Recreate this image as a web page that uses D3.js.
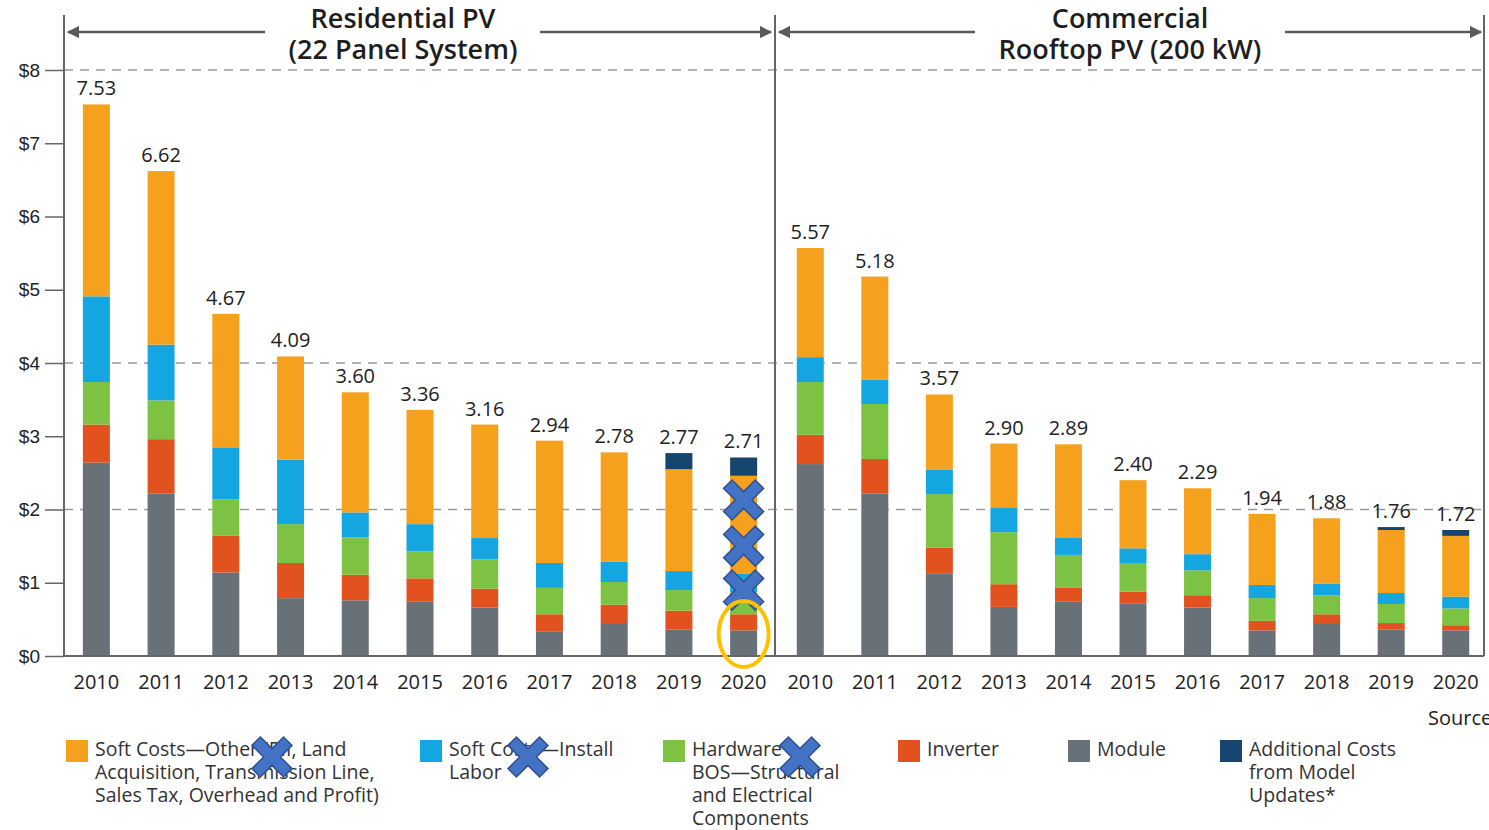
<!DOCTYPE html>
<html lang="en">
<head>
  <meta charset="UTF-8">
  <title>PV System Cost Benchmarks</title>
  <script src="https://d3js.org/d3.v7.min.js"></script>
  <style>
    body { margin: 0; padding: 0; background: #fff; overflow: hidden; }
    svg { display: block; font-family: "Open Sans", sans-serif; }
    .tick-label { font-size: 19px; fill: #222; }
    .year-label { font-size: 20px; fill: #222; }
    .value-label { font-size: 20px; fill: #222; }
    .legend-text { font-size: 19.5px; fill: #333; }
    .header { font-size: 27px; font-weight: 600; fill: #1e1e1e; }
  </style>
</head>
<body>
  <div id="chart"></div>

  <script>
    const years = ['2010','2011','2012','2013','2014','2015','2016','2017','2018','2019','2020'];
    const yTicks = [0, 1, 2, 3, 4, 5, 6, 7, 8];
    const gridTicks = [2, 4, 8];

    // Residential PV (22 panel system), $/W
    const resModule     = [2.64, 2.22, 1.14, 0.79, 0.76, 0.74, 0.66, 0.33, 0.45, 0.36, 0.35];
    const resInverter   = [0.52, 0.74, 0.50, 0.48, 0.35, 0.32, 0.26, 0.24, 0.25, 0.26, 0.22];
    const resBos        = [0.58, 0.53, 0.50, 0.53, 0.51, 0.37, 0.40, 0.36, 0.31, 0.28, 0.30];
    const resLabor      = [1.17, 0.76, 0.70, 0.88, 0.34, 0.37, 0.29, 0.34, 0.28, 0.26, 0.25];
    const resOther      = [2.62, 2.37, 1.83, 1.41, 1.64, 1.56, 1.55, 1.67, 1.49, 1.39, 1.34];
    const resAdditional = [0, 0, 0, 0, 0, 0, 0, 0, 0, 0.22, 0.25];
    const resTotals     = ['7.53','6.62','4.67','4.09','3.60','3.36','3.16','2.94','2.78','2.77','2.71'];

    // Commercial rooftop PV (200 kW), $/W
    const comModule     = [2.62, 2.22, 1.13, 0.67, 0.74, 0.72, 0.66, 0.35, 0.45, 0.36, 0.35];
    const comInverter   = [0.40, 0.47, 0.35, 0.31, 0.19, 0.16, 0.17, 0.13, 0.12, 0.09, 0.07];
    const comBos        = [0.72, 0.75, 0.73, 0.71, 0.45, 0.39, 0.34, 0.31, 0.26, 0.26, 0.23];
    const comLabor      = [0.34, 0.33, 0.33, 0.33, 0.24, 0.20, 0.22, 0.18, 0.16, 0.15, 0.16];
    const comOther      = [1.49, 1.41, 1.03, 0.88, 1.27, 0.93, 0.90, 0.97, 0.89, 0.86, 0.83];
    const comAdditional = [0, 0, 0, 0, 0, 0, 0, 0, 0, 0.04, 0.08];
    const comTotals     = ['5.57','5.18','3.57','2.90','2.89','2.40','2.29','1.94','1.88','1.76','1.72'];

    const keys = ['module', 'inverter', 'bos', 'labor', 'other', 'additional'];
    const colors = {
      module: '#687078', inverter: '#e1521f', bos: '#7dc242',
      labor: '#14a6e1', other: '#f6a11d', additional: '#16456d'
    };
    const legendItems = [
      { key: 'other',      lines: ['Soft Costs\u2014Other (PII, Land', 'Acquisition, Transmission Line,', 'Sales Tax, Overhead and Profit)'] },
      { key: 'labor',      lines: ['Soft Costs\u2014Install', 'Labor'] },
      { key: 'bos',        lines: ['Hardware', 'BOS\u2014Structural', 'and Electrical', 'Components'] },
      { key: 'inverter',   lines: ['Inverter'] },
      { key: 'module',     lines: ['Module'] },
      { key: 'additional', lines: ['Additional Costs', 'from Model', 'Updates*'] }
    ];

    const width = 1489, height = 830;
    const svg = d3.select('#chart').append('svg')
      .attr('width', width).attr('height', height);

    const y = d3.scaleLinear().domain([0, 8]).range([656, 70]);
    const xRes = d3.scalePoint().domain(years).range([64, 776]).padding(0.5);
    const xCom = d3.scalePoint().domain(years).range([778, 1488]).padding(0.5);
    const barW = 27;

    const rows = (m, i, b, l, o, a) => years.map((yr, k) => ({
      year: yr, module: m[k], inverter: i[k], bos: b[k], labor: l[k], other: o[k], additional: a[k]
    }));
    const resData = rows(resModule, resInverter, resBos, resLabor, resOther, resAdditional);
    const comData = rows(comModule, comInverter, comBos, comLabor, comOther, comAdditional);
    const stack = d3.stack().keys(keys);

    // dashed grid lines
    svg.append('g').selectAll('line')
      .data(gridTicks).enter().append('line')
      .attr('x1', 64).attr('x2', 1484)
      .attr('y1', d => y(d)).attr('y2', d => y(d))
      .attr('stroke', '#9a9a9a').attr('stroke-width', 1.3)
      .attr('stroke-dasharray', '9,7');

    // y axis
    const yAxis = svg.append('g').attr('transform', 'translate(64,0)')
      .call(d3.axisLeft(y).tickValues(yTicks).tickFormat(d => '$' + d).tickSize(19).tickPadding(5));
    yAxis.select('.domain').remove();
    yAxis.selectAll('.tick line').attr('stroke', '#666').attr('stroke-width', 1.5);
    yAxis.selectAll('.tick text').attr('class', 'tick-label').attr('font-size', null).attr('font-family', null);

    function drawPanel(data, x, totals) {
      const g = svg.append('g');
      const series = stack(data);
      g.selectAll('g.series').data(series).enter().append('g')
        .attr('fill', d => colors[d.key])
        .selectAll('rect').data(d => d).enter().append('rect')
        .attr('x', d => x(d.data.year) - barW / 2)
        .attr('width', barW)
        .attr('y', d => y(d[1]))
        .attr('height', d => Math.max(0, y(d[0]) - y(d[1])));

      g.selectAll('text.value-label').data(data).enter().append('text')
        .attr('class', 'value-label')
        .attr('x', d => x(d.year))
        .attr('y', (d, i) => y(+totals[i]) - 9)
        .attr('text-anchor', 'middle')
        .text((d, i) => totals[i]);

      g.selectAll('text.year-label').data(years).enter().append('text')
        .attr('class', 'year-label')
        .attr('x', d => x(d))
        .attr('y', 689)
        .attr('text-anchor', 'middle')
        .text(d => d);
    }
    drawPanel(resData, xRes, resTotals);
    drawPanel(comData, xCom, comTotals);

    // frame: axis, divider, right border, baseline
    const frame = svg.append('g').attr('stroke', '#666').attr('stroke-width', 2);
    [64, 775, 1484].forEach(xv => {
      frame.append('line').attr('x1', xv).attr('x2', xv).attr('y1', 15).attr('y2', y(0));
    });
    frame.append('line').attr('x1', 64).attr('x2', 1484).attr('y1', y(0)).attr('y2', y(0));

    // headers with arrows
    const defs = svg.append('defs');
    defs.append('marker').attr('id', 'arrow')
      .attr('viewBox', '0 0 10 10').attr('refX', 9).attr('refY', 5)
      .attr('markerWidth', 5).attr('markerHeight', 5).attr('orient', 'auto-start-reverse')
      .append('path').attr('d', 'M0,0 L10,5 L0,10 Z').attr('fill', '#5a5a5a');

    function header(lines, cx, left, right, gapL, gapR) {
      const g = svg.append('g');
      g.append('line').attr('x1', left).attr('x2', gapL).attr('y1', 32).attr('y2', 32)
        .attr('stroke', '#5a5a5a').attr('stroke-width', 2.5).attr('marker-start', 'url(#arrow)');
      g.append('line').attr('x1', gapR).attr('x2', right).attr('y1', 32).attr('y2', 32)
        .attr('stroke', '#5a5a5a').attr('stroke-width', 2.5).attr('marker-end', 'url(#arrow)');
      lines.forEach((t, i) => {
        g.append('text').attr('class', 'header')
          .attr('x', cx).attr('y', 28 + i * 31)
          .attr('text-anchor', 'middle').text(t);
      });
    }
    header(['Residential PV', '(22 Panel System)'], 403, 68, 771, 265, 540);
    header(['Commercial', 'Rooftop PV (200 kW)'], 1130, 779, 1481, 975, 1285);

    // legend
    const legendX = [66, 420, 663, 898, 1068, 1220];
    const legend = svg.append('g');
    legendItems.forEach((item, i) => {
      const lg = legend.append('g').attr('transform', `translate(${legendX[i]},740)`);
      lg.append('rect').attr('width', 22).attr('height', 22).attr('fill', colors[item.key]);
      item.lines.forEach((t, j) => {
        lg.append('text').attr('class', 'legend-text')
          .attr('x', 29).attr('y', 16 + j * 23).text(t);
      });
    });

    svg.append('text').attr('x', 1428).attr('y', 725)
      .attr('font-size', 20).attr('fill', '#222').text('Source');

    // annotation overlays (blue crosses and orange ring)
    function cross(cx, cy, s) {
      const c = 0.42;
      const pts = [[-1,-1+c],[-1+c,-1],[0,-c],[1-c,-1],[1,-1+c],[c,0],[1,1-c],[1-c,1],[0,c],[-1+c,1],[-1,1-c],[-c,0]];
      svg.append('path')
        .attr('d', 'M' + pts.map(p => [cx + p[0] * s, cy + p[1] * s].join(',')).join('L') + 'Z')
        .attr('fill', '#4472c4').attr('stroke', '#2f528f').attr('stroke-width', 1.5);
    }
    const x2020 = xRes('2020');
    [2.13, 1.5, 0.9].forEach(v => cross(x2020, y(v), 20));
    cross(272, 757, 20);
    cross(528, 757, 20);
    cross(800, 757, 20);

    svg.append('ellipse')
      .attr('cx', x2020).attr('cy', y(0.3)).attr('rx', 25).attr('ry', 33)
      .attr('fill', 'none').attr('stroke', '#ffc000').attr('stroke-width', 4);
  </script>
</body>
</html>
